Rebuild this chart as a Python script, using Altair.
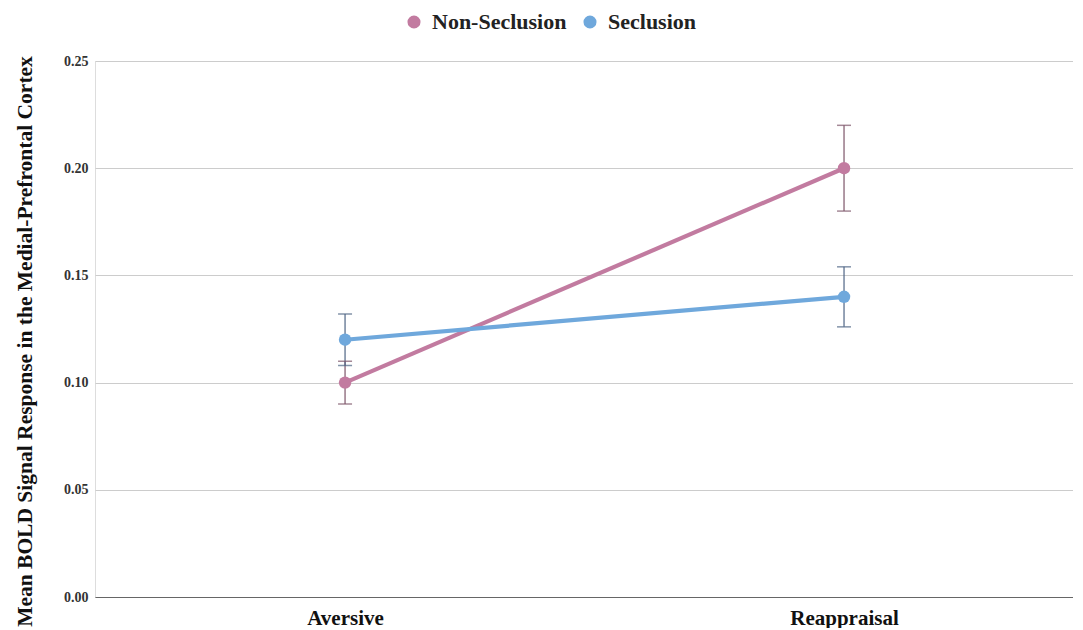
import altair as alt
import pandas as pd

conditions = ["Aversive", "Reappraisal"]
groups = ["Non-Seclusion", "Seclusion"]
nonsec_mean = [0.10, 0.20]
nonsec_err = [0.01, 0.02]
sec_mean = [0.12, 0.14]
sec_err = [0.012, 0.014]
y_ticks = [0.0, 0.05, 0.10, 0.15, 0.20, 0.25]

line_colors = ["#c27ba0", "#6fa8dc"]
err_colors = ["#7d5569", "#4f6585"]

rows = []
for g, means, errs in [(groups[0], nonsec_mean, nonsec_err), (groups[1], sec_mean, sec_err)]:
    for c, m, e in zip(conditions, means, errs):
        rows.append({"condition": c, "group": g, "mean": m, "lo": m - e, "hi": m + e})
df = pd.DataFrame(rows)

FONT = "Liberation Serif"

x_scale = alt.Scale(type="point", padding=0.48, align=0.522)
x_enc = alt.X("condition:N", sort=conditions, scale=x_scale,
              axis=alt.Axis(title=None, labelAngle=0, labelFontSize=21, labelFontWeight="bold",
                            labelColor="#111", labelFont=FONT, ticks=False, domain=True,
                            domainColor="#666", domainWidth=1.2, labelPadding=10, grid=False))
y_scale = alt.Scale(domain=[0, 0.25], nice=False, zero=True)

color_scale = alt.Scale(domain=groups, range=line_colors)
err_scale = alt.Scale(domain=groups, range=err_colors)

base = alt.Chart(df)

y_axis = alt.Axis(title="Mean BOLD Signal Response in the Medial-Prefrontal Cortex",
                  values=y_ticks, format=".2f", labelFontSize=14, labelFont=FONT,
                  labelFontWeight="bold", labelColor="#333", titleFont=FONT,
                  titleFontSize=21.5, titleFontWeight="bold", titleColor="#111",
                  titlePadding=27, titleY=280, ticks=False, domain=False, labelPadding=7,
                  grid=True, gridColor="#cccccc", gridWidth=1)

lines = base.mark_line(strokeWidth=4.2).encode(
    x=x_enc,
    y=alt.Y("mean:Q", scale=y_scale, axis=y_axis),
    color=alt.Color("group:N", scale=color_scale, sort=groups,
                    legend=alt.Legend(title=None, orient="none", direction="horizontal",
                                      legendX=308, legendY=-50, symbolType="circle",
                                      symbolSize=170, symbolStrokeWidth=0,
                                      labelFontSize=22, labelFont=FONT, labelFontWeight="bold",
                                      labelColor="#222", columnPadding=12, labelOffset=7)),
)

rules = base.mark_rule(strokeWidth=1.2).encode(
    x=alt.X("condition:N", sort=conditions, scale=x_scale),
    y=alt.Y("lo:Q", scale=y_scale, axis=y_axis),
    y2="hi:Q",
    stroke=alt.Stroke("group:N", scale=err_scale, legend=None),
)

caps_hi = base.mark_tick(thickness=1.5, size=14, orient="horizontal").encode(
    x=alt.X("condition:N", sort=conditions, scale=x_scale),
    y=alt.Y("hi:Q", scale=y_scale),
    fill=alt.Fill("group:N", scale=err_scale, legend=None),
)
caps_lo = base.mark_tick(thickness=1.5, size=14, orient="horizontal").encode(
    x=alt.X("condition:N", sort=conditions, scale=x_scale),
    y=alt.Y("lo:Q", scale=y_scale),
    fill=alt.Fill("group:N", scale=err_scale, legend=None),
)

points = base.mark_circle(size=155, opacity=1).encode(
    x=alt.X("condition:N", sort=conditions, scale=x_scale),
    y=alt.Y("mean:Q", scale=y_scale),
    color=alt.Color("group:N", scale=color_scale, legend=None),
)

chart = alt.layer(lines, rules, caps_hi, caps_lo, points).properties(
    width=978, height=536,
    padding={"left": 6, "top": 3, "right": 0, "bottom": 0},
).configure_view(stroke=None).configure(background="white")

chart.save("out.html", embed_options={"renderer": "svg", "actions": False})
